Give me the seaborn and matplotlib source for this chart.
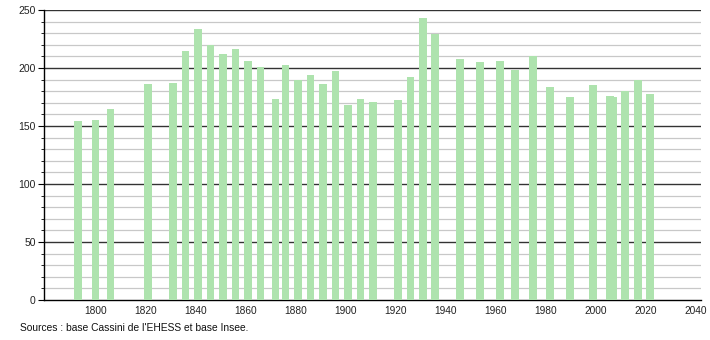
import matplotlib
matplotlib.use("Agg")
import matplotlib.pyplot as plt
import seaborn as sns
import pandas as pd
from matplotlib.ticker import MultipleLocator

years = [1793, 1800, 1806, 1821, 1831, 1836, 1841, 1846, 1851, 1856, 1861, 1866,
         1872, 1876, 1881, 1886, 1891, 1896, 1901, 1906, 1911, 1921, 1926, 1931,
         1936, 1946, 1954, 1962, 1968, 1975, 1982, 1990, 1999, 2006, 2007, 2012,
         2017, 2022]
population = [154, 155, 165, 186, 187, 215, 234, 220, 212, 216, 206, 201,
              173, 203, 190, 194, 186, 197, 168, 173, 171, 172, 192, 243,
              229, 208, 205, 206, 198, 210, 184, 175, 185, 176, 175, 180,
              190, 178]
x_ticks = [1800, 1820, 1840, 1860, 1880, 1900, 1920, 1940, 1960, 1980, 2000, 2020, 2040]
source_text = "Sources : base Cassini de l'EHESS et base Insee."

sns.set_theme(style="white")
plt.rcParams['font.family'] = ['Liberation Sans', 'DejaVu Sans']

df = pd.DataFrame({"year": years, "pop": population})

fig = plt.figure(figsize=(7.1, 3.4), dpi=100)
ax = fig.add_axes([0.062, 0.1176, 0.925, 0.853])

sns.barplot(data=df, x="year", y="pop", native_scale=True, width=3.1,
            color="#aee3ae", saturation=1, edgecolor="none", linewidth=0, ax=ax, zorder=3)

ax.set_xlim(1779.4, 2042.2)
ax.set_ylim(0, 250)
ax.set_xticks(x_ticks)
ax.set_xticklabels([str(t) for t in x_ticks])
ax.yaxis.set_major_locator(MultipleLocator(50))
ax.yaxis.set_minor_locator(MultipleLocator(10))

ax.grid(False)
for v in range(10, 250, 10):
    if v % 50:
        ax.axhline(v, color="#c8c8c8", lw=0.9, zorder=1)
for v in range(50, 251, 50):
    ax.axhline(v, color="#333333", lw=1.0, zorder=2)

ax.set_xlabel("")
ax.set_ylabel("")
for s in ["top", "right"]:
    ax.spines[s].set_visible(False)
ax.spines["left"].set_color("#000000")
ax.spines["bottom"].set_color("#000000")
ax.spines["left"].set_linewidth(1.0)
ax.spines["bottom"].set_linewidth(1.0)

ax.tick_params(axis="y", which="major", length=4, width=0.8, left=True, direction="out",
               labelsize=7.5, colors="#000000", pad=2)
ax.tick_params(axis="y", which="minor", length=2, width=0.6, left=True, direction="out",
               colors="#000000")
ax.tick_params(axis="x", which="both", length=0, labelsize=7.3, colors="#000000", pad=4)
for lab in ax.get_yticklabels() + ax.get_xticklabels():
    lab.set_color("#222222")

fig.text(20 / 710, 1 - 328 / 340, source_text, fontsize=7.4, color="#111111",
         ha="left", va="center")

fig.savefig("out.png", dpi=100)
